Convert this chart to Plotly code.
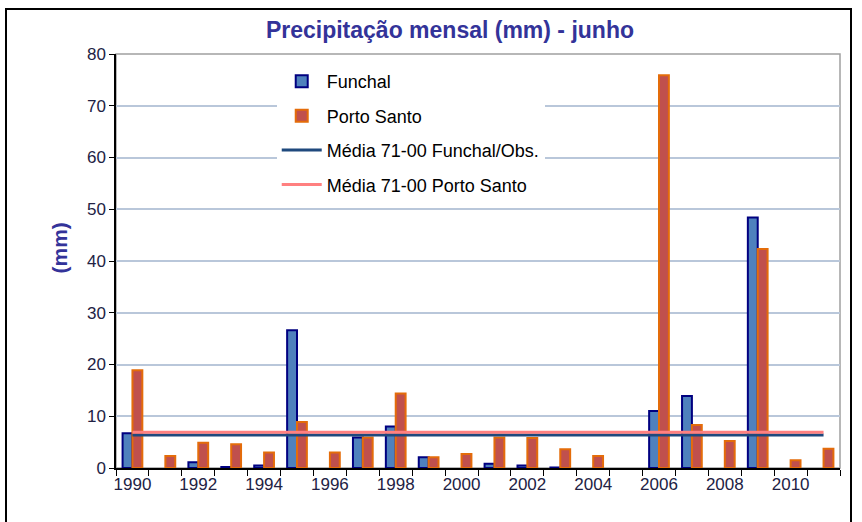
import plotly.graph_objects as go

years = [str(y) for y in range(1990, 2012)]
funchal = [6.7, 0, 1.1, 0.2, 0.5, 26.6, 0, 5.9, 8.0, 2.1, 0, 0.8, 0.5, 0.1, 0, 0, 11.0, 13.9, 0, 48.4, 0, 0]
porto_santo = [18.9, 2.3, 4.9, 4.6, 3.0, 8.9, 3.0, 5.9, 14.4, 2.1, 2.7, 5.9, 5.8, 3.6, 2.3, 0, 75.9, 8.3, 5.2, 42.3, 1.5, 3.7]
media_funchal = 6.4
media_porto_santo = 6.9
tick_text = [y if int(y) % 2 == 0 else "" for y in years]

title_color = "#333399"
font_family = "Liberation Sans, Arial, sans-serif"

# hide outlines of empty bars (Excel draws nothing for zero values)
f_lw = [2 if v > 0 else 0 for v in funchal]
p_lw = [2 if v > 0 else 0 for v in porto_santo]

fig = go.Figure()
fig.add_trace(go.Bar(
    x=years, y=funchal, name="Funchal", legendgroup="a",
    marker=dict(color="#4F81BD", line=dict(color="#000080", width=f_lw)),
))
fig.add_trace(go.Bar(
    x=years, y=porto_santo, name="Porto Santo", legendgroup="b",
    marker=dict(color="#C0504D", line=dict(color="#E46C0A", width=p_lw)),
))
fig.add_trace(go.Scatter(
    x=[years[0], years[-1]], y=[media_funchal, media_funchal],
    mode="lines", name="Média 71-00 Funchal/Obs.", legendgroup="c",
    line=dict(color="#1F497D", width=3),
))
fig.add_trace(go.Scatter(
    x=[years[0], years[-1]], y=[media_porto_santo, media_porto_santo],
    mode="lines", name="Média 71-00 Porto Santo", legendgroup="d",
    line=dict(color="#FF8080", width=3),
))

fig.update_layout(
    width=862, height=522,
    margin=dict(l=116, r=22, t=54, b=54, autoexpand=False),
    paper_bgcolor="white", plot_bgcolor="white",
    font=dict(family=font_family, size=17, color="black"),
    barmode="group", bargap=0.4, bargroupgap=0,
    title=dict(text="<b>Precipitação mensal (mm) - junho</b>",
               font=dict(size=23, color=title_color, family=font_family),
               x=0.522, xanchor="center", y=1 - 30 / 522, yanchor="middle"),
    legend=dict(x=0.222, y=0.978, xanchor="left", yanchor="top",
                bgcolor="white", borderwidth=0, traceorder="grouped",
                tracegroupgap=8, font=dict(size=18, color="black"),
                itemwidth=40),
    showlegend=True,
)
fig.update_xaxes(
    type="category", tickmode="array", tickvals=years, ticktext=tick_text,
    tickson="boundaries", ticks="outside", ticklen=6, tickcolor="black",
    tickangle=0, automargin=False,
    showline=True, linecolor="black", linewidth=1.5, showgrid=False,
    tickfont=dict(size=17, color="#222244"),
)
fig.update_yaxes(
    range=[0, 80], dtick=10, ticks="outside", ticklen=5, tickcolor="black",
    automargin=False,
    showline=True, linecolor="black", linewidth=1.5,
    showgrid=True, gridcolor="#B9C7DA", gridwidth=1.5, zeroline=False,
    tickfont=dict(size=17, color="#222244"),
)
fig.add_shape(type="rect", xref="paper", yref="paper", x0=0, x1=1, y0=0, y1=1,
              line=dict(color="#A0A0A0", width=1.5), layer="below")
fig.add_shape(type="rect", xref="paper", yref="paper",
              x0=(6 - 116) / 724, x1=(851 - 116) / 724,
              y0=(468 - 526) / 414, y1=(468 - 9) / 414,
              line=dict(color="black", width=2), layer="below")
fig.add_annotation(text="<b>(mm)</b>", xref="paper", yref="paper",
                   x=(45 - 116) / 724, y=(468 - 248) / 414, showarrow=False,
                   textangle=-90, font=dict(size=21, color=title_color))

fig.write_html("out.html", config={"displayModeBar": False},
               post_script="document.body.style.margin='0';document.body.style.overflow='hidden';")
